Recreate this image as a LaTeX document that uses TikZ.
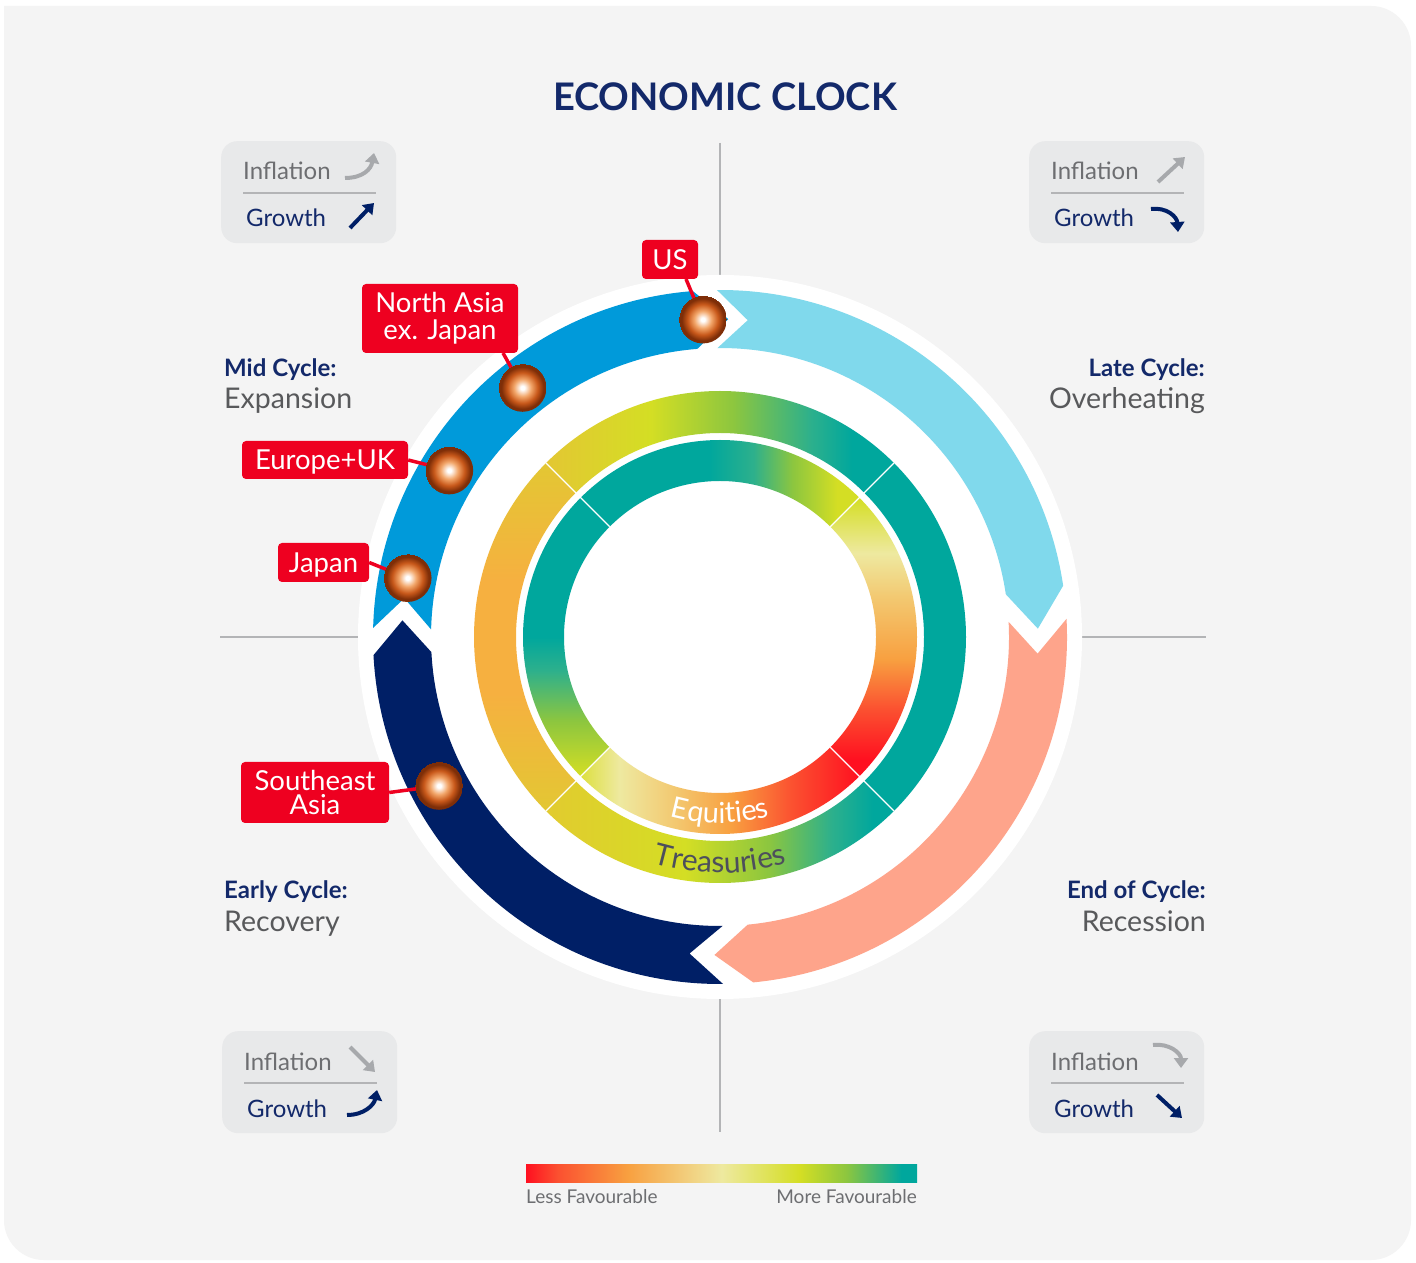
\documentclass[tikz,border=0pt]{standalone}
\usepackage{fontspec}
\setmainfont{Lato}
\usetikzlibrary{arrows.meta,decorations.text}
\definecolor{navy}{HTML}{13296A}
\definecolor{txtgray}{HTML}{6D6E71}
\definecolor{labgray}{HTML}{58595B}
\definecolor{bggray}{HTML}{F4F4F4}
\definecolor{boxgray}{HTML}{E8E9EA}
\definecolor{linegray}{HTML}{B3B4B6}
\definecolor{icongray}{HTML}{A7A9AC}
\definecolor{arrnavy}{HTML}{001F66}
\definecolor{arrblue}{HTML}{009ADA}
\definecolor{arrlight}{HTML}{80D9EC}
\definecolor{arrpink}{HTML}{FEA48B}
\definecolor{tagred}{HTML}{EE0020}
\definecolor{tealc}{HTML}{00A79D}
\definecolor{greenc}{HTML}{8CC63F}
\definecolor{tgreen}{HTML}{2DB08C}
\definecolor{limec}{HTML}{D4DE24}
\definecolor{yelc}{HTML}{E3C733}
\definecolor{yelb}{HTML}{E2CB2F}
\definecolor{orc}{HTML}{F6B040}
\definecolor{orb}{HTML}{F8A040}
\definecolor{lorc}{HTML}{F3C870}
\definecolor{palec}{HTML}{EEE9A0}
\definecolor{redor}{HTML}{FB5030}
\definecolor{redc}{HTML}{FF1020}
\definecolor{ylime}{HTML}{DDE040}
\definecolor{ballA}{HTML}{F2A66A}
\definecolor{ballB}{HTML}{C8581A}
\definecolor{ballC}{HTML}{7E2E08}
\definecolor{treastxt}{HTML}{4D4F5C}
\pgfdeclarehorizontalshading{tTop}{100bp}{color(0bp)=(yelc); color(25bp)=(yelc); color(40bp)=(limec); color(52bp)=(greenc); color(63bp)=(tgreen); color(69bp)=(tealc); color(100bp)=(tealc)}
\pgfdeclarehorizontalshading{tBot}{100bp}{color(0bp)=(yelb); color(25bp)=(yelb); color(45bp)=(limec); color(57bp)=(greenc); color(66bp)=(tgreen); color(72bp)=(tealc); color(100bp)=(tealc)}
\pgfdeclareverticalshading{tLeft}{100bp}{color(0bp)=(yelc); color(25bp)=(yelc); color(42bp)=(orc); color(58bp)=(orc); color(75bp)=(yelc); color(100bp)=(yelc)}
\pgfdeclarehorizontalshading{eTop}{100bp}{color(0bp)=(tealc); color(25bp)=(tealc); color(48bp)=(tealc); color(56bp)=(tgreen); color(63bp)=(greenc); color(71bp)=(limec); color(100bp)=(limec)}
\pgfdeclareverticalshading{eRight}{100bp}{color(0bp)=(redc); color(28bp)=(redc); color(37bp)=(redor); color(46bp)=(orb); color(57bp)=(lorc); color(65bp)=(palec); color(75bp)=(limec); color(100bp)=(limec)}
\pgfdeclarehorizontalshading{eBot}{100bp}{color(0bp)=(ylime); color(25bp)=(ylime); color(32bp)=(palec); color(42bp)=(lorc); color(52bp)=(orb); color(63bp)=(redor); color(75bp)=(redc); color(100bp)=(redc)}
\pgfdeclareverticalshading{eLeft}{100bp}{color(0bp)=(limec); color(25bp)=(limec); color(35bp)=(greenc); color(44bp)=(tgreen); color(50bp)=(tealc); color(100bp)=(tealc)}
\pgfdeclarehorizontalshading{legendshade}{100bp}{color(0bp)=(redc); color(25bp)=(redc); color(29bp)=(redor); color(38bp)=(orb); color(50bp)=(palec); color(60bp)=(limec); color(66bp)=(greenc); color(73bp)=(tealc); color(100bp)=(tealc)}
\pgfdeclareradialshading{ballshade}{\pgfpoint{0bp}{0bp}}{color(0bp)=(white); color(2bp)=(white); color(9bp)=(ballA); color(16bp)=(ballB); color(22bp)=(ballC); color(25bp)=(ballC)}
\begin{document}
\begin{tikzpicture}[x=1pt,y=1pt,
  tag/.style={rectangle, rounded corners=4pt, fill=tagred, text=white, font=\fontsize{27.5}{28}\selectfont, align=center, inner sep=0pt},
  tagline/.style={draw=tagred, line width=3.5pt},
  ball/.style={circle, minimum size=48pt, inner sep=0pt, shade, shading=ballshade},
  infobox/.style={rectangle, fill=boxgray, rounded corners=16pt, inner sep=0pt, minimum width=175pt, minimum height=102pt, anchor=north west},
  inftext/.style={font=\fontsize{24}{24}\selectfont, text=txtgray, anchor=base west, inner sep=0pt},
  grwtext/.style={font=\fontsize{24}{24}\selectfont, text=navy, anchor=base west, inner sep=0pt},
  sepline/.style={draw=linegray, line width=1.2pt},
  grayarr/.style={draw=icongray, line width=4pt, -{Triangle[length=10pt,width=14pt]}},
  navyarr/.style={draw=arrnavy, line width=4pt, -{Triangle[length=10pt,width=14pt]}},
  phase/.style={font=\bfseries\fontsize{24}{24}\selectfont, text=navy, inner sep=0pt},
  phasesub/.style={font=\fontsize{28.5}{28.5}\selectfont, text=labgray, inner sep=0pt},
  qline/.style={draw=linegray, line width=1.2pt},
  legtext/.style={font=\fontsize{19}{19}\selectfont, text=txtgray, inner sep=0pt}]
\useasboundingbox (0,0) rectangle (1416,1262);
% background
\fill[white] (0,0) rectangle (1416,1262);
\fill[bggray] (4,1256) -- (1371,1256) arc[start angle=90,end angle=0,radius=40] -- (1411,42) arc[start angle=0,end angle=-90,radius=40] -- (44,2) arc[start angle=270,end angle=180,radius=40] -- cycle;
% quadrant lines
\coordinate (qT) at (720,1119);
\coordinate (qB) at (720,130);
\coordinate (qL) at (220,625);
\coordinate (qR) at (1206,625);
\draw[qline] (qT) -- (qB);
\draw[qline] (qL) -- (qR);
\begin{scope}[shift={(720,625)}]
  \fill[white] (0,0) circle[radius=362];
  % cycle arrows
  \fill[arrnavy] (270.5:347) arc[start angle=270.5,end angle=183,radius=347] -- (177:318) -- (183:289) arc[start angle=183,end angle=270.5,radius=289] -- (264.5:318) -- cycle;
  \fill[arrblue] (178.5:347) arc[start angle=178.5,end angle=94.5,radius=347] -- (88.5:318) -- (94.5:289) arc[start angle=94.5,end angle=178.5,radius=289] -- (173:318) -- cycle;
  \fill[arrlight] (90.5:347) arc[start angle=90.5,end angle=8.5,radius=347] -- (1.5:318) -- (8.5:289) arc[start angle=8.5,end angle=90.5,radius=289] -- (85:318) -- cycle;
  \fill[arrpink] (3:347) arc[start angle=3,end angle=-84.5,radius=347] -- (-91:318) -- (-84.5:289) arc[start angle=-84.5,end angle=3,radius=289] -- (-3:318) -- cycle;
  % treasuries ring
  \shade[shading=tTop] (45:246) arc[start angle=45,end angle=135,radius=246] -- (135:204) arc[start angle=135,end angle=45,radius=204] -- cycle;
  \fill[tealc] (-45:246) arc[start angle=-45,end angle=45,radius=246] -- (45:204) arc[start angle=45,end angle=-45,radius=204] -- cycle;
  \shade[shading=tBot] (225:246) arc[start angle=225,end angle=315,radius=246] -- (315:204) arc[start angle=315,end angle=225,radius=204] -- cycle;
  \shade[shading=tLeft] (135:246) arc[start angle=135,end angle=225,radius=246] -- (225:204) arc[start angle=225,end angle=135,radius=204] -- cycle;
  % equities ring
  \shade[shading=eTop] (45:197) arc[start angle=45,end angle=135,radius=197] -- (135:156) arc[start angle=135,end angle=45,radius=156] -- cycle;
  \shade[shading=eRight] (-45:197) arc[start angle=-45,end angle=45,radius=197] -- (45:156) arc[start angle=45,end angle=-45,radius=156] -- cycle;
  \shade[shading=eBot] (225:197) arc[start angle=225,end angle=315,radius=197] -- (315:156) arc[start angle=315,end angle=225,radius=156] -- cycle;
  \shade[shading=eLeft] (135:197) arc[start angle=135,end angle=225,radius=197] -- (225:156) arc[start angle=225,end angle=135,radius=156] -- cycle;
  \foreach \a in {45,135,225,315} \draw[white, line width=1.2pt] (\a:156) -- (\a:246);
  % curved texts
  \path[decorate, decoration={text along path, text={|\fontsize{29}{29}\selectfont\color{white}|Equities}, text align=center}] (220:186) arc[start angle=220,end angle=320,radius=186];
  \path[decorate, decoration={text along path, text={|\fontsize{30}{30}\selectfont\color{treastxt}|Treasuries}, text align=center}] (220:236) arc[start angle=220,end angle=320,radius=236];
  % balls positions
  \coordinate (pUS) at (93.1:318);
  \coordinate (pNA) at (128.4:318);
  \coordinate (pEU) at (148.4:318);
  \coordinate (pJP) at (169.3:318);
  \coordinate (pSE) at (207.9:318);
\end{scope}
% tags
\node[tag, minimum width=56pt, minimum height=39pt, text height=20pt, text depth=0pt] (tUS) at (670,1002.5) {US};
\node[tag, minimum width=156pt, minimum height=69pt] (tNA) at (440,943.5) {North Asia\\[-1pt]ex. Japan};
\node[tag, minimum width=166pt, minimum height=38pt, text height=20pt, text depth=0pt] (tEU) at (325,802) {Europe+UK};
\node[tag, minimum width=91pt, minimum height=39pt, text height=20pt, text depth=0pt] (tJP) at (323.5,699.5) {Japan};
\node[tag, minimum width=148pt, minimum height=61pt] (tSE) at (315,469.5) {Southeast\\[-4pt]Asia};
\coordinate (cUS) at (686,983);
\coordinate (cNA) at (503,909);
\draw[tagline] (cUS) -- (pUS);
\draw[tagline] (cNA) -- (pNA);
\draw[tagline] (tEU.east) -- (pEU);
\draw[tagline] (tJP.east) -- (pJP);
\draw[tagline] (tSE.east) -- (pSE);
\node[ball] (bUS) at (pUS) {};
\node[ball] (bNA) at (pNA) {};
\node[ball] (bEU) at (pEU) {};
\node[ball] (bJP) at (pJP) {};
\node[ball] (bSE) at (pSE) {};
% info boxes
\node[infobox] (boxTL) at (221,1121) {};
\node[inftext] (iTL) at ([xshift=22pt,yshift=-39pt]boxTL.north west) {Inflation};
\node[grwtext] (gTL) at ([xshift=25pt,yshift=-86pt]boxTL.north west) {Growth};
\draw[sepline] ([xshift=22pt,yshift=-52pt]boxTL.north west) -- ([xshift=155pt,yshift=-52pt]boxTL.north west);
\begin{scope}[shift={(boxTL.north west)}]
  \draw[grayarr] (124,-37) .. controls (142,-37) and (150,-28) .. (153,-12);
  \draw[navyarr] (129,-87) -- (153,-62);
\end{scope}
\node[infobox] (boxTR) at (1029,1121) {};
\node[inftext] (iTR) at ([xshift=22pt,yshift=-39pt]boxTR.north west) {Inflation};
\node[grwtext] (gTR) at ([xshift=25pt,yshift=-86pt]boxTR.north west) {Growth};
\draw[sepline] ([xshift=22pt,yshift=-52pt]boxTR.north west) -- ([xshift=155pt,yshift=-52pt]boxTR.north west);
\begin{scope}[shift={(boxTR.north west)}]
  \draw[grayarr] (129,-41) -- (156,-16);
  \draw[navyarr] (122,-68) .. controls (138,-66) and (148,-76) .. (149,-91);
\end{scope}
\node[infobox] (boxBL) at (222,231) {};
\node[inftext] (iBL) at ([xshift=22pt,yshift=-39pt]boxBL.north west) {Inflation};
\node[grwtext] (gBL) at ([xshift=25pt,yshift=-86pt]boxBL.north west) {Growth};
\draw[sepline] ([xshift=22pt,yshift=-52pt]boxBL.north west) -- ([xshift=155pt,yshift=-52pt]boxBL.north west);
\begin{scope}[shift={(boxBL.north west)}]
  \draw[grayarr] (128,-16) -- (153,-41);
  \draw[navyarr] (125,-84) .. controls (142,-84) and (152,-74) .. (155,-59);
\end{scope}
\node[infobox] (boxBR) at (1029,231) {};
\node[inftext] (iBR) at ([xshift=22pt,yshift=-39pt]boxBR.north west) {Inflation};
\node[grwtext] (gBR) at ([xshift=25pt,yshift=-86pt]boxBR.north west) {Growth};
\draw[sepline] ([xshift=22pt,yshift=-52pt]boxBR.north west) -- ([xshift=155pt,yshift=-52pt]boxBR.north west);
\begin{scope}[shift={(boxBR.north west)}]
  \draw[grayarr] (124,-14) .. controls (140,-12) and (152,-22) .. (152,-37);
  \draw[navyarr] (128,-64) -- (153,-87);
\end{scope}
% phase labels
\node[phase, anchor=base west] (pMid) at (224,885) {Mid Cycle:};
\node[phasesub, anchor=base west] (sMid) at (224,853) {Expansion};
\node[phase, anchor=base east] (pLate) at (1205,885) {Late Cycle:};
\node[phasesub, anchor=base east] (sLate) at (1205,853) {Overheating};
\node[phase, anchor=base west] (pEarly) at (224,363) {Early Cycle:};
\node[phasesub, anchor=base west] (sEarly) at (224,331) {Recovery};
\node[phase, anchor=base east] (pEnd) at (1206,363) {End of Cycle:};
\node[phasesub, anchor=base east] (sEnd) at (1206,331) {Recession};
% title
\node[font=\bfseries\fontsize{38}{38}\selectfont, text=navy, anchor=base, inner sep=0pt] (title) at (725,1151) {ECONOMIC CLOCK};
% legend
\shade[shading=legendshade] (526,80) rectangle (917,98);
\node[legtext, anchor=base west] (lLess) at (526,59) {Less Favourable};
\node[legtext, anchor=base east] (lMore) at (917,59) {More Favourable};
\end{tikzpicture}
\end{document}
